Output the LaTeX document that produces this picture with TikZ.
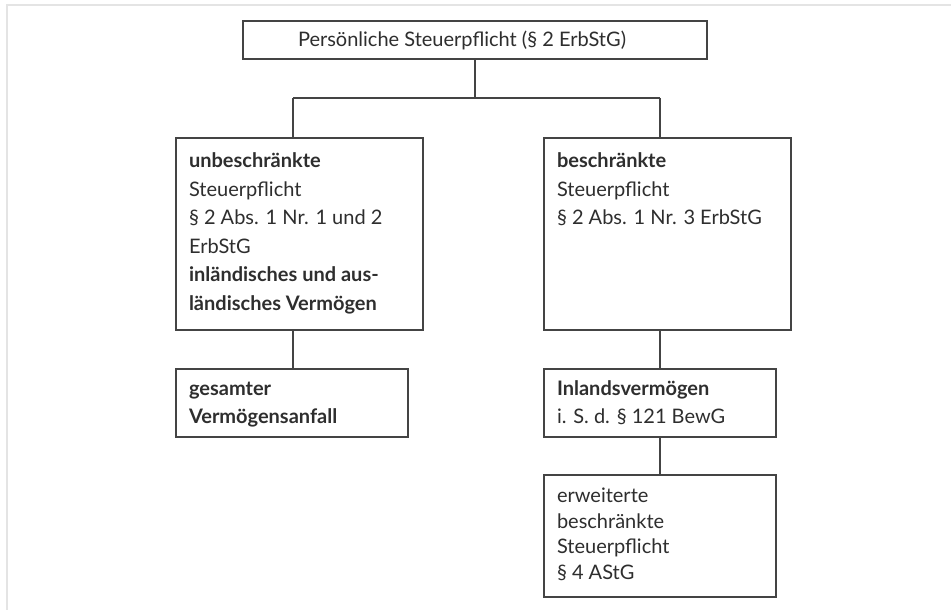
\documentclass[tikz,border=0pt]{standalone}
\usepackage{fontspec}
\setmainfont{Lato}
\definecolor{linec}{HTML}{444444}
\definecolor{txtc}{HTML}{2E2E2E}
\definecolor{framec}{HTML}{E4E4E4}
\begin{document}
\begin{tikzpicture}[x=1pt,y=-1pt,
  boxst/.style={draw=linec, line width=1.2pt, rectangle, inner sep=0pt, outer sep=0pt, anchor=north west},
  txt/.style={text=txtc, inner sep=0pt, outer sep=0pt, anchor=base west, align=left,
    font=\fontsize{20}{28.5}\selectfont},
  txtE/.style={txt, font=\fontsize{20}{25.6}\selectfont},
  conn/.style={draw=linec, line width=1.2pt}]
\useasboundingbox (0,0) rectangle (951,610);
\fill[white] (0,0) rectangle (951,610);
\draw[framec, line width=2.5pt] (7,610) -- (7,5) -- (951,5);
% boxes
\node[boxst, minimum width=464pt, minimum height=38pt] (top) at (243,21) {};
\node[boxst, minimum width=247pt, minimum height=192pt] (A) at (176,138) {};
\node[boxst, minimum width=247pt, minimum height=192pt] (B) at (544,138) {};
\node[boxst, minimum width=232pt, minimum height=68pt] (C) at (176,369) {};
\node[boxst, minimum width=232pt, minimum height=68pt] (D) at (544,369) {};
\node[boxst, minimum width=232pt, minimum height=122pt] (E) at (544,475) {};
% texts (anchor = baseline of the last line)
\node[txt] (tTop) at (298,46.5) {Persönliche Steuerpflicht (§ 2 ErbStG)};
\node[txt] (tA) at (189,310) {\textbf{unbeschränkte}\\Steuerpflicht\\§ 2 Abs. 1 Nr. 1 und 2\\ErbStG\\\textbf{inländisches und aus-}\\\textbf{ländisches Vermögen}};
\node[txt] (tB) at (557,224.5) {\textbf{beschränkte}\\Steuerpflicht\\§ 2 Abs. 1 Nr. 3 ErbStG};
\node[txt] (tC) at (189,423.5) {\textbf{gesamter}\\\textbf{Vermögensanfall}};
\node[txt] (tD) at (557,423.5) {\textbf{Inlandsvermögen}\\i. S. d. § 121 BewG};
\node[txtE] (tE) at (557,579.5) {erweiterte\\beschränkte\\Steuerpflicht\\§ 4 AStG};
% connectors
\coordinate (jL) at (293,98);
\coordinate (jR) at (660,98);
\coordinate (jM) at (top.south |- jL);
\draw[conn] (top.south) -- (jM);
\draw[conn] (jL) -- (jR);
\draw[conn] (jL) -- (jL |- A.north);
\draw[conn] (jR) -- (jR |- B.north);
\draw[conn] (jL |- A.south) -- (jL |- C.north);
\draw[conn] (jR |- B.south) -- (jR |- D.north);
\draw[conn] (jR |- D.south) -- (jR |- E.north);
\end{tikzpicture}
\end{document}
